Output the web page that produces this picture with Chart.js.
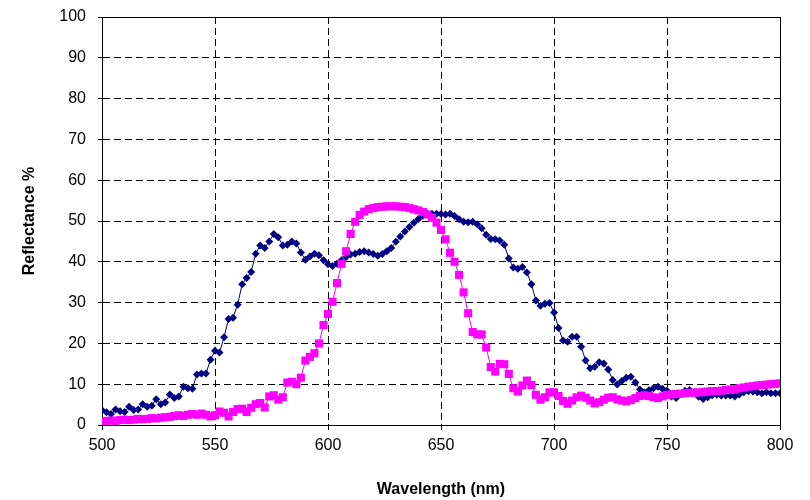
<!DOCTYPE html>
<html>
<head>
<meta charset="utf-8">
<script src="https://cdn.jsdelivr.net/npm/chart.js@4/dist/chart.umd.min.js"></script>
<style>
  html, body { margin: 0; padding: 0; background: #fff; }
  canvas { display: block; }
</style>
</head>
<body>
<canvas id="spectrumChart" width="810" height="500"></canvas>
<script>
// Длины волн: 500..800 нм с шагом 2 нм
const wavelengths = Array.from({ length: 151 }, (_, i) => 500 + 2 * i);

// Синяя кривая (ромбы)
const blueValues = [
    3.6, 3.1, 2.7, 3.8, 3.4, 3.2, 4.5, 3.7, 3.8, 5.1,
    4.5, 4.7, 6.3, 5.1, 5.5, 7.5, 6.6, 7.0, 9.4, 9.0,
    8.9, 12.4, 12.6, 12.6, 16.0, 18.2, 17.8, 21.5, 26.0, 26.3,
    29.5, 34.5, 36.0, 37.5, 42.0, 44.0, 43.4, 45.0, 46.8, 46.0,
    44.0, 44.2, 45.0, 44.5, 42.3, 40.5, 41.3, 42.0, 41.6, 40.4,
    39.4, 39.0, 39.5, 40.4, 41.2, 41.8, 42.0, 42.4, 42.6, 42.3,
    41.9, 41.5, 41.9, 42.6, 43.4, 44.9, 46.2, 47.4, 48.5, 49.6,
    50.5, 51.3, 51.8, 51.8, 51.8, 51.7, 51.6, 51.8, 51.2, 50.4,
    49.8, 49.7, 49.8, 49.2, 48.2, 46.6, 45.6, 45.5, 45.2, 44.2,
    40.8, 38.6, 38.3, 38.7, 37.4, 34.5, 30.5, 29.2, 29.7, 29.9,
    27.6, 23.8, 20.7, 20.4, 21.6, 21.6, 19.2, 15.8, 13.9, 14.3,
    15.4, 15.1, 13.6, 11.0, 9.9, 10.8, 11.6, 11.8, 10.4, 8.7,
    8.0, 8.5, 9.0, 9.4, 8.9, 8.4, 7.0, 6.6, 7.6, 8.4,
    8.6, 8.0, 6.9, 6.4, 6.8, 7.3, 7.4, 7.2, 7.2, 7.2,
    7.0, 7.5, 8.0, 8.3, 8.2, 8.0, 7.8, 8.0, 7.8, 7.8,
    7.8
];

// Розовая кривая (квадраты)
const pinkValues = [
    0.9, 1.0, 1.1, 1.0, 1.2, 1.3, 1.2, 1.3, 1.5, 1.4,
    1.5, 1.7, 1.6, 1.8, 1.9, 2.0, 2.2, 2.4, 2.2, 2.5,
    2.7, 2.5, 2.8, 2.5, 2.1, 2.4, 3.3, 3.0, 2.1, 3.2,
    3.9, 4.0, 3.2, 4.2, 5.1, 5.4, 4.3, 7.0, 7.3, 6.2,
    6.8, 10.4, 10.6, 10.0, 11.6, 15.8, 16.7, 17.6, 20.0, 24.5,
    27.2, 30.2, 34.8, 39.5, 42.6, 46.8, 49.8, 51.5, 52.3, 52.9,
    53.2, 53.4, 53.5, 53.6, 53.6, 53.6, 53.5, 53.4, 53.2, 52.9,
    52.6, 52.2, 51.6, 50.8, 49.6, 47.8, 45.5, 42.2, 40.0, 36.8,
    32.5, 27.4, 22.8, 22.2, 22.2, 19.0, 14.2, 13.1, 15.0, 14.9,
    12.5, 9.0, 8.2, 9.7, 10.9, 9.8, 7.4, 6.2, 6.8, 8.0,
    8.0, 7.1, 5.9, 5.2, 6.0, 6.8, 7.2, 6.7, 6.0, 5.3,
    5.6, 6.2, 6.7, 6.8, 6.3, 6.0, 5.8, 6.1, 6.6, 7.1,
    7.3, 7.1, 6.8, 6.6, 7.0, 7.4, 7.5, 7.6, 7.7, 7.8,
    7.9, 7.9, 8.0, 8.1, 8.2, 8.3, 8.3, 8.4, 8.6, 8.7,
    8.8, 9.0, 9.2, 9.4, 9.5, 9.7, 9.8, 9.9, 10.0, 10.1,
    10.2
];

const xTicks = [500, 550, 600, 650, 700, 750, 800];
const yTicks = [0, 10, 20, 30, 40, 50, 60, 70, 80, 90, 100];

const toPoints = (values) => values.map((v, i) => ({ x: wavelengths[i], y: v }));

// Сплошная рамка вокруг области построения (под точками)
const frame = {
    id: 'frame',
    beforeDatasetsDraw(chart) {
        const a = chart.chartArea;
        const ctx = chart.ctx;
        ctx.save();
        ctx.setLineDash([]);
        ctx.strokeStyle = '#000';
        ctx.lineWidth = 1;
        ctx.strokeRect(Math.round(a.left) + 0.5, Math.round(a.top) + 0.5,
            Math.round(a.right - a.left), Math.round(a.bottom - a.top));
        ctx.restore();
    }
};

const font = { family: '"Liberation Sans", Arial, sans-serif', size: 16 };
const titleFont = { family: font.family, size: 16, weight: 'bold' };

new Chart(document.getElementById('spectrumChart').getContext('2d'), {
    type: 'line',
    data: {
        datasets: [
            {
                label: 'Series 1',
                data: toPoints(blueValues),
                borderColor: '#000080',
                backgroundColor: '#000080',
                borderWidth: 1,
                pointStyle: 'rectRot',
                pointRadius: 4,
                pointBorderWidth: 0,
                tension: 0,
                order: 1
            },
            {
                label: 'Series 2',
                data: toPoints(pinkValues),
                borderColor: '#FF00FF',
                backgroundColor: '#FF00FF',
                borderWidth: 1,
                pointStyle: 'rect',
                pointRadius: 5.7,
                pointBorderWidth: 0,
                tension: 0,
                order: 0
            }
        ]
    },
    options: {
        responsive: false,
        animation: false,
        devicePixelRatio: 1,
        layout: { padding: { top: 17, right: 30, bottom: 0, left: 0 } },
        plugins: { legend: { display: false }, tooltip: { enabled: false } },
        scales: {
            x: {
                type: 'linear',
                min: 500,
                max: 800,
                afterBuildTicks: (s) => { s.ticks = xTicks.map(v => ({ value: v })); },
                afterFit: (s) => { s.height = 75; s.paddingLeft = 0; s.paddingRight = 0; },
                ticks: { color: '#000', font: font, padding: 6, maxRotation: 0 },
                grid: { color: '#000', lineWidth: 1, tickLength: 5,
                        tickColor: '#000', tickBorderDash: [] },
                border: { display: true, color: '#000', width: 1, dash: [7, 4] },
                title: { display: true, text: 'Wavelength (nm)', color: '#000',
                         font: titleFont, padding: { top: 0, bottom: 1 } }
            },
            y: {
                min: 0,
                max: 100,
                afterBuildTicks: (s) => { s.ticks = yTicks.map(v => ({ value: v })); },
                afterFit: (s) => { s.width = 102; s.paddingTop = 0; s.paddingBottom = 0; },
                ticks: { color: '#000', font: font, padding: 12 },
                grid: { color: '#000', lineWidth: 1, tickLength: 4,
                        tickColor: '#000', tickBorderDash: [] },
                border: { display: true, color: '#000', width: 1, dash: [7, 4] },
                title: { display: true, text: 'Reflectance %', color: '#000',
                         font: titleFont, padding: { top: 20, bottom: 0 } }
            }
        }
    },
    plugins: [frame]
});
</script>
</body>
</html>
